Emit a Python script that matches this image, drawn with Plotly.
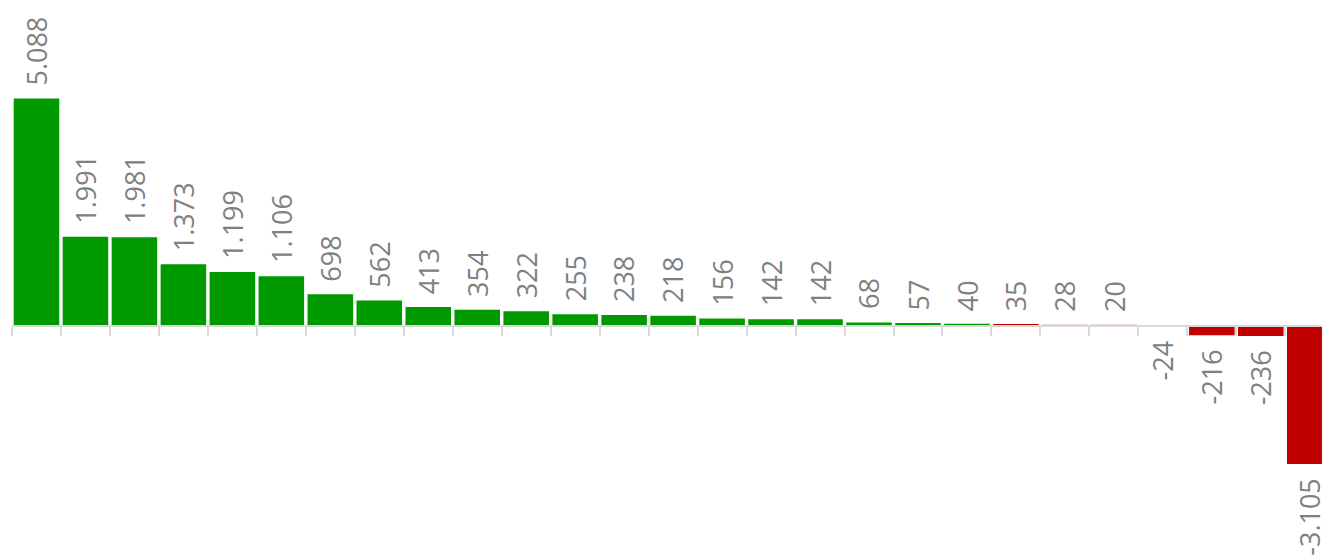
import plotly.graph_objects as go

categories = [f"C{i+1}" for i in range(27)]
values = [5088, 1991, 1981, 1373, 1199, 1106, 698, 562, 413, 354, 322, 255, 238,
          218, 156, 142, 142, 68, 57, 40, 35, 28, 20, -24, -216, -236, -3105]
bar_colors = ["#009900"] * 20 + ["#c00000", "#e6d2d2", "#e6d2d2",
                                  "#c00000", "#c00000", "#c00000", "#c00000"]
labels = [f"{v:,}".replace(",", ".") for v in values]

y_top, y_bot = 7298, -5168
zero_frac = (0 - y_bot) / (y_top - y_bot)

fig = go.Figure()
fig.add_trace(go.Bar(
    x=categories, y=values,
    marker=dict(color=bar_colors, line=dict(width=0)),
    hoverinfo="skip",
))

for c, v, t in zip(categories, values, labels):
    fig.add_annotation(
        x=c, y=v, text=t, showarrow=False, textangle=-90,
        xanchor="center", yanchor="bottom" if v >= 0 else "top",
        yshift=11 if v >= 0 else -12,
        font=dict(family="Open Sans", size=27, color="#808080"),
    )

fig.update_layout(
    width=1322, height=556,
    margin=dict(l=12, r=0, t=0, b=0),
    plot_bgcolor="white", paper_bgcolor="white",
    bargap=0.07, showlegend=False,
    xaxis=dict(
        anchor="free", position=zero_frac, range=[-0.5, 26.25],
        showline=True, linecolor="#d9d9d9", linewidth=2,
        ticks="outside", tickson="boundaries", ticklen=9, tickwidth=2,
        tickcolor="#d9d9d9", showticklabels=False, showgrid=False,
        zeroline=False,
    ),
    yaxis=dict(range=[y_bot, y_top], visible=False, showgrid=False,
               zeroline=False),
)

fig.write_html("out.html")
